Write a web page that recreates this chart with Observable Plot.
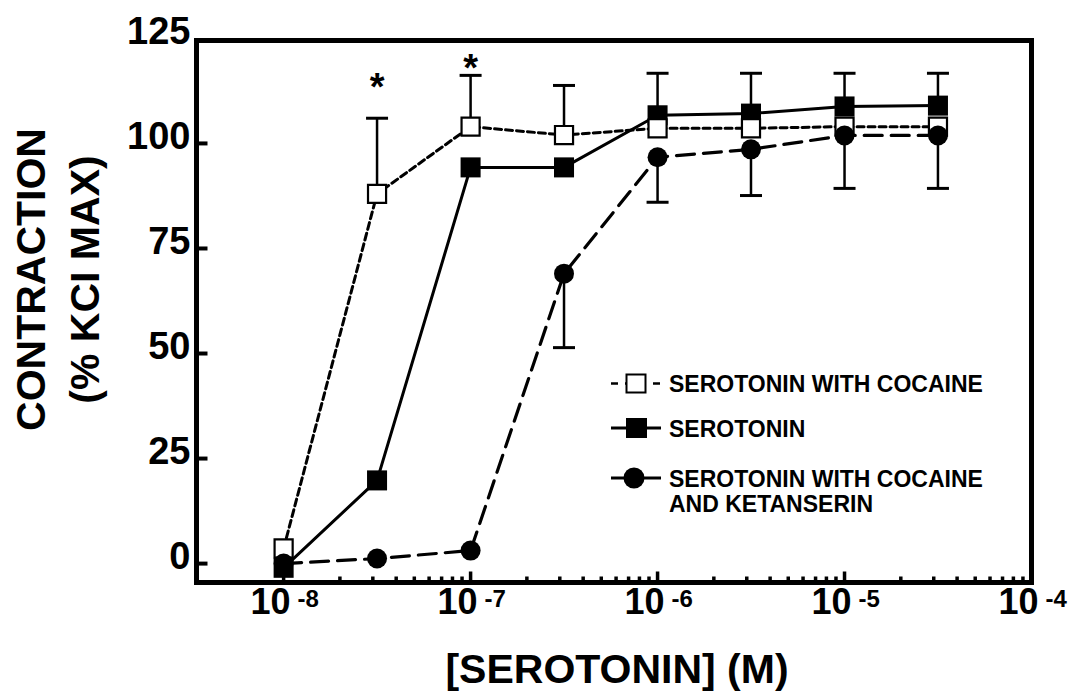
<!DOCTYPE html>
<html>
<head>
<meta charset="utf-8">
<script src="https://cdn.jsdelivr.net/npm/d3@7"></script>
<script src="https://cdn.jsdelivr.net/npm/@observablehq/plot@0.6"></script>
<style>
  html, body { margin: 0; padding: 0; background: #fff; }
  #wrap { position: relative; width: 1073px; height: 694px; }
  #legend { position: absolute; left: 0; top: 0; pointer-events: none; }
</style>
</head>
<body>
<div id="wrap"></div>
<script>
// ---------- data ----------
const concentrations = [1e-8, 3.16e-8, 1e-7, 3.16e-7, 1e-6, 3.16e-6, 1e-5, 3.16e-5];
const cocaineValues = [3.6, 88, 104, 102, 103.6, 103.6, 104, 104];
const cocaineErrUpper = [null, 106, 116.2, 113.8, null, null, null, null];
const serotoninValues = [-1, 19.8, 94.3, 94.3, 106.7, 107.1, 108.8, 109];
const serotoninErrUpper = [null, null, null, null, 116.7, 116.7, 116.7, 116.7];
const ketanserinValues = [0, 1.2, 3.1, 69, 96.7, 98.6, 101.9, 101.9];
const ketanserinErrLower = [null, null, null, 51.4, 86, 87.6, 89.3, 89.3];
const seriesLabels = ["SEROTONIN WITH COCAINE", "SEROTONIN", "SEROTONIN WITH COCAINE\nAND KETANSERIN"];
const asteriskConc = [3.16e-8, 1e-7];
const asteriskValues = [114, 118.5];
const yTickValues = [0, 25, 50, 75, 100, 125];
const xDecadeExponents = [-8, -7, -6, -5, -4];
const xTitle = "[SEROTONIN] (M)";
const yTitle = "CONTRACTION\n(% KCI MAX)";

// ---------- tables ----------
const mk = (vals, errs) => concentrations.map((c, i) => ({c, v: vals[i], e: errs[i]}));
const cocaine = mk(cocaineValues, cocaineErrUpper);
const serotonin = mk(serotoninValues, serotoninErrUpper);
const ketanserin = mk(ketanserinValues, ketanserinErrLower);
const withErr = d => d.filter(r => r.e != null);
const asterisks = asteriskConc.map((c, i) => ({c, v: asteriskValues[i]}));

const xDomain = [3.42e-9, 1e-4];
const logTicks = d3.scaleLog().domain(xDomain).ticks();
const majorTicks = xDecadeExponents.map(e => 10 ** e);
const minorTicks = logTicks.filter(t => t > 1e-8 && !majorTicks.some(m => Math.abs(m - t) / m < 1e-6));

const FONT = "'Liberation Sans', Arial, Helvetica, sans-serif";

// custom symbols
const sym = (pts) => ({draw(ctx) { ctx.moveTo(pts[0], pts[1]); ctx.lineTo(pts[2], pts[3]); }});
const yTickSym = sym([0, 0, 11, 0]);
const xMinorSym = sym([0, 0, 0, -6]);
const xMajorSym = sym([0, 0, 0, -11]);
const capSym = sym([-11, 0, 11, 0]);

const DASH_COC = "7,4";
const DASH_KET = "18,9";

const chart = Plot.plot({
  width: 1073,
  height: 694,
  marginLeft: 196,
  marginRight: 42,
  marginTop: 40,
  marginBottom: 112,
  x: {type: "log", domain: xDomain, axis: null},
  y: {domain: [-4.5, 124.5], axis: null},
  style: {fontFamily: FONT, fontWeight: "bold", background: "white", color: "black"},
  marks: [
    // ticks
    Plot.dot(yTickValues.filter(t => t < 125), {y: d => d, frameAnchor: "left", symbol: yTickSym, stroke: "black", fill: "none", strokeWidth: 4}),
    Plot.dot(minorTicks, {x: d => d, frameAnchor: "bottom", symbol: xMinorSym, stroke: "black", fill: "none", strokeWidth: 3.5}),
    Plot.dot(majorTicks, {x: d => d, frameAnchor: "bottom", symbol: xMajorSym, stroke: "black", fill: "none", strokeWidth: 3.5}),
    Plot.frame({stroke: "black", strokeWidth: 5}),
    // lines
    Plot.line(serotonin, {x: "c", y: "v", stroke: "black", strokeWidth: 3}),
    Plot.line(cocaine, {x: "c", y: "v", stroke: "black", strokeWidth: 3, strokeDasharray: DASH_COC}),
    Plot.line(ketanserin, {x: "c", y: "v", stroke: "black", strokeWidth: 3.2, strokeDasharray: DASH_KET}),
    // error bars
    ...[cocaine, serotonin, ketanserin].flatMap(s => [
      Plot.ruleX(withErr(s), {x: "c", y1: "v", y2: "e", stroke: "black", strokeWidth: 2.5}),
      Plot.dot(withErr(s), {x: "c", y: "e", symbol: capSym, stroke: "black", fill: "none", strokeWidth: 3})
    ]),
    // markers
    Plot.dot(serotonin, {x: "c", y: "v", symbol: "square", r: 11.3, fill: "black", stroke: "none"}),
    Plot.dot(cocaine, {x: "c", y: "v", symbol: "square", r: 10.2, fill: "white", stroke: "black", strokeWidth: 2.2}),
    Plot.dot(ketanserin, {x: "c", y: "v", symbol: "circle", r: 10, fill: "black", stroke: "none"}),
    // significance asterisks
    Plot.text(asterisks, {x: "c", y: "v", text: () => "*", dy: 3, fontSize: 38, fontWeight: "bold", fill: "black"}),
    // y tick labels
    Plot.text(yTickValues, {y: d => d, frameAnchor: "left", text: d => String(d), textAnchor: "end", dx: -6, dy: -7, fontSize: 38, fontWeight: "bold", fill: "black"}),
    // x tick labels: base and exponent
    Plot.text(xDecadeExponents, {x: e => 10 ** e, frameAnchor: "bottom", text: () => "10", textAnchor: "end", lineAnchor: "bottom", dx: 7, dy: 31, fontSize: 36, fontWeight: "bold", fill: "black"}),
    Plot.text(xDecadeExponents, {x: e => 10 ** e, frameAnchor: "bottom", text: e => String(e), textAnchor: "start", lineAnchor: "bottom", dx: 14, dy: 24, fontSize: 24, fontWeight: "bold", fill: "black"}),
    // axis titles
    Plot.text([xTitle], {frameAnchor: "bottom", text: d => d, textAnchor: "middle", lineAnchor: "bottom", dx: 3, dy: 100, fontSize: 41, fontWeight: "bold", fill: "black"}),
    Plot.text([yTitle], {frameAnchor: "left", text: d => d, rotate: -90, textAnchor: "middle", lineAnchor: "middle", lineHeight: 1.33, dx: -142, dy: -32, fontSize: 41, fontWeight: "bold", fill: "black"})
  ]
});

const wrap = document.getElementById("wrap");
wrap.appendChild(chart);

// ---------- legend (overlay inside plot area) ----------
const legendItems = [
  {label: seriesLabels[0], symbol: "openSquare", dash: DASH_COC},
  {label: seriesLabels[1], symbol: "filledSquare", dash: null},
  {label: seriesLabels[2], symbol: "circle", dash: null}
];
const lg = d3.select(wrap).append("svg")
  .attr("id", "legend").attr("width", 1073).attr("height", 694)
  .style("font-family", FONT).style("font-weight", "bold");
const rowY = [383.5, 428, 478];
legendItems.forEach((it, i) => {
  const g = lg.append("g").attr("transform", `translate(0,${rowY[i]})`);
  const line = g.append("line").attr("x1", 611).attr("x2", 661).attr("y1", 0).attr("y2", 0)
    .attr("stroke", "black").attr("stroke-width", 3);
  if (it.dash) line.attr("stroke-dasharray", "7,7").attr("stroke-width", 2.5);
  if (it.symbol === "openSquare") {
    g.append("rect").attr("x", 626.5).attr("y", -9).attr("width", 19).attr("height", 18)
      .attr("fill", "white").attr("stroke", "black").attr("stroke-width", 2);
  } else if (it.symbol === "filledSquare") {
    g.append("rect").attr("x", 626).attr("y", -10).attr("width", 21).attr("height", 20).attr("fill", "black");
  } else {
    g.append("circle").attr("cx", 634).attr("cy", 0).attr("r", 10.5).attr("fill", "black");
  }
  const t = g.append("text").attr("x", 669).attr("y", 8.5).attr("font-size", 23).attr("fill", "black");
  it.label.split("\n").forEach((ln, j) => {
    t.append("tspan").attr("x", 669).attr("dy", j ? 25 : 0).text(ln);
  });
});
</script>
</body>
</html>
